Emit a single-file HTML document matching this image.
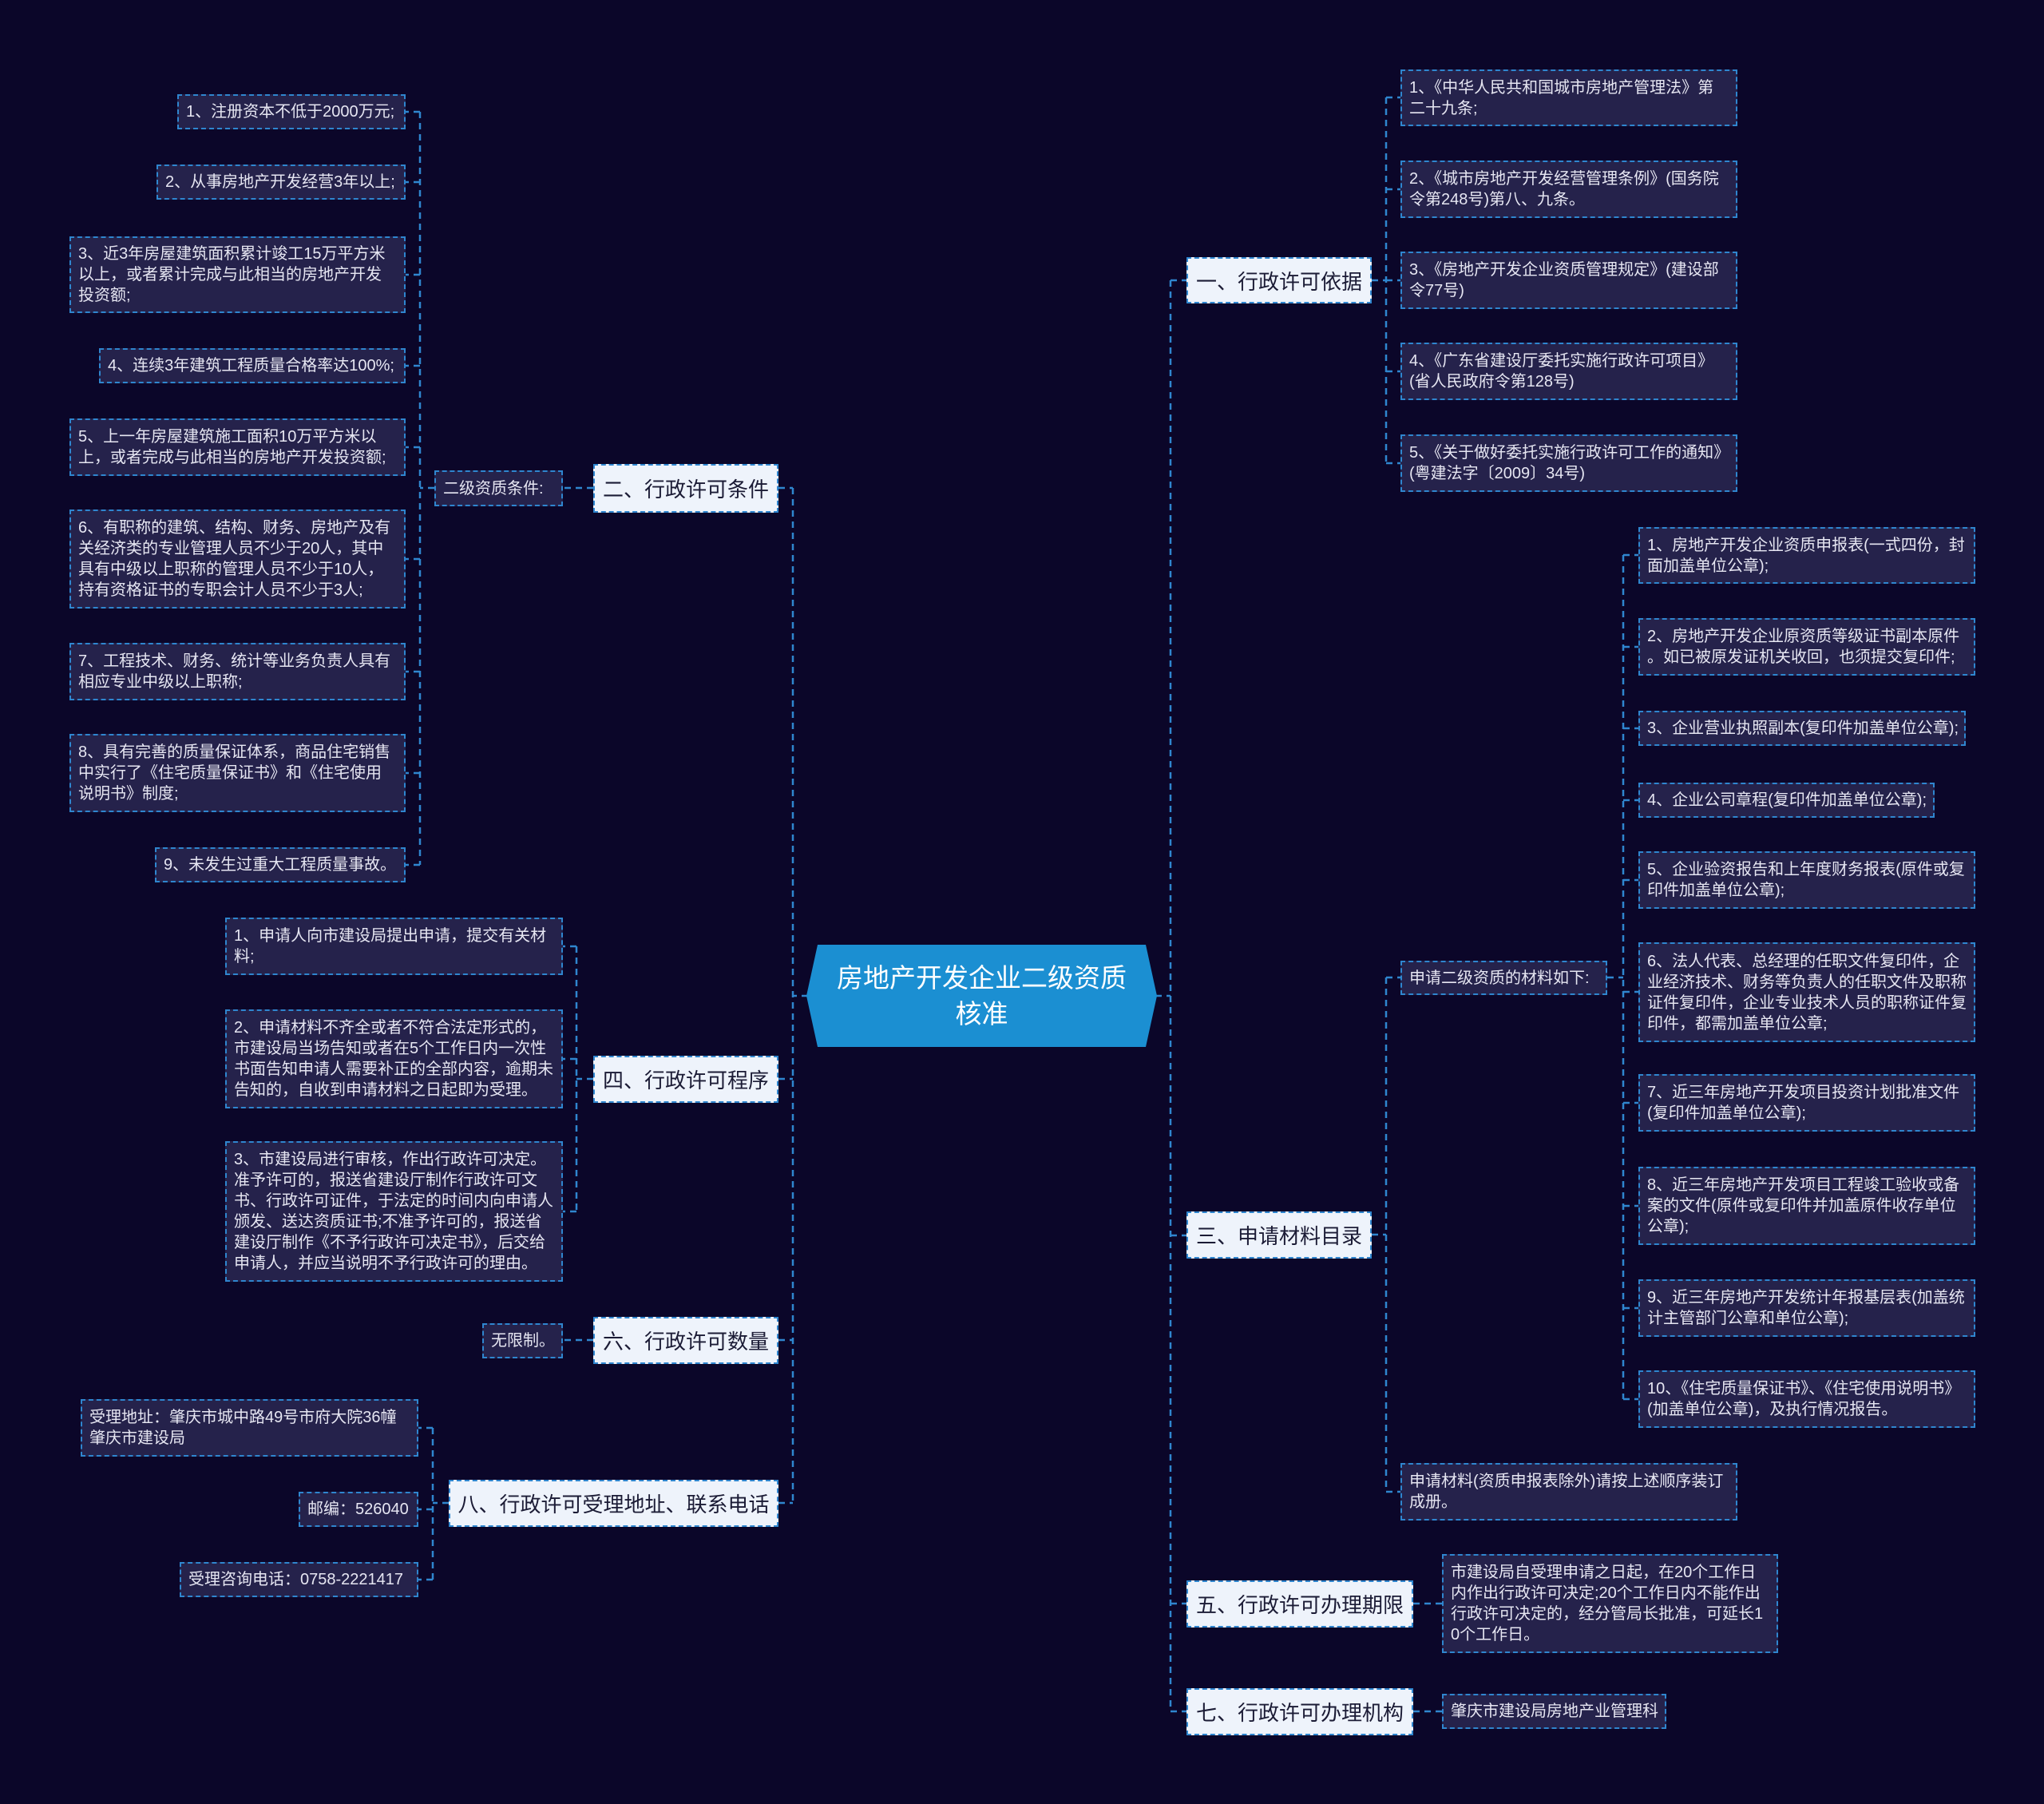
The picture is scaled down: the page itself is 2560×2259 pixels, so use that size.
<!DOCTYPE html>
<html><head><meta charset="utf-8"><style>
html,body{margin:0;padding:0}
body{width:2560px;height:2259px;background:#0b0629;position:relative;overflow:hidden;font-family:"Liberation Sans","Noto Sans CJK SC",sans-serif}
.l{position:absolute;box-sizing:border-box;background:#25224b;border:2px dashed #2f86cf;color:#e6e6f2;font-size:20px;line-height:26px;padding:0 9px;display:flex;align-items:center;word-break:break-all}
.n{white-space:nowrap}
.b{position:absolute;box-sizing:border-box;background:#eef3fb;border:2px dashed #2f86cf;color:#1b1b35;font-size:26px;display:flex;align-items:center;justify-content:center;white-space:nowrap}
svg{position:absolute;left:0;top:0}
</style></head><body>
<svg width="2560" height="2259"><g fill="none" stroke="#2f86cf" stroke-width="2.5" stroke-dasharray="8,6">
<path d="M1466 351V2143M1447 1247H1466M993 611V1882M1012 1247H993"/>
<path d="M1466 351H1486M1466 1547H1486M1466 2008H1486M1466 2143H1486M975 611H993M975 1351H993M975 1678H993M975 1882H993"/>
<path d="M1718 351H1736M1736 122V580M1736 122H1754M1736 237H1754M1736 351H1754M1736 465H1754M1736 580H1754"/>
<path d="M1718 1546H1736M1736 1224V1868M1736 1224H1754M1736 1868H1754"/>
<path d="M2013 1224H2033M2033 695V1752M2033 695H2052M2033 810H2052M2033 912H2052M2033 1002H2052M2033 1102H2052M2033 1242H2052M2033 1381H2052M2033 1510H2052M2033 1638H2052M2033 1752H2052"/>
<path d="M1770 2008H1806M1770 2143H1806"/>
<path d="M743 611H705M544 611H526M526 140V1083M526 140H508M526 228H508M526 344H508M526 458H508M526 560H508M526 700H508M526 841H508M526 968H508M526 1083H508"/>
<path d="M743 1351H722M722 1185V1517M722 1185H705M722 1326H705M722 1517H705M743 1678H705"/>
<path d="M562 1882H542M542 1788V1978M542 1788H524M542 1890H524M542 1978H524"/>
</g>
<polygon points="1024,1183 1435,1183 1449,1247 1435,1311 1024,1311 1010,1247" fill="#1b8fd2"/>
</svg>
<div style="position:absolute;left:1024px;top:1183px;width:411px;height:128px;display:flex;align-items:center;justify-content:center;text-align:center;color:#fff;font-size:33px;line-height:45px">房地产开发企业二级资质<br>核准</div>

<div class="b" style="left:1486px;top:322px;width:232px;height:58px">一、行政许可依据</div>
<div class="b" style="left:1486px;top:1517px;width:232px;height:59px">三、申请材料目录</div>
<div class="b" style="left:1486px;top:1979px;width:284px;height:59px">五、行政许可办理期限</div>
<div class="b" style="left:1486px;top:2114px;width:284px;height:59px">七、行政许可办理机构</div>
<div class="b" style="left:743px;top:581px;width:232px;height:61px">二、行政许可条件</div>
<div class="b" style="left:743px;top:1322px;width:232px;height:59px">四、行政许可程序</div>
<div class="b" style="left:743px;top:1649px;width:232px;height:59px">六、行政许可数量</div>
<div class="b" style="left:562px;top:1853px;width:413px;height:59px">八、行政许可受理地址、联系电话</div>

<div class="l" style="left:1754px;top:87px;width:422px;height:71px">1、《中华人民共和国城市房地产管理法》第二十九条;</div>
<div class="l" style="left:1754px;top:201px;width:422px;height:72px">2、《城市房地产开发经营管理条例》(国务院令第248号)第八、九条。</div>
<div class="l" style="left:1754px;top:315px;width:422px;height:72px">3、《房地产开发企业资质管理规定》(建设部令77号)</div>
<div class="l" style="left:1754px;top:429px;width:422px;height:72px">4、《广东省建设厅委托实施行政许可项目》(省人民政府令第128号)</div>
<div class="l" style="left:1754px;top:544px;width:422px;height:72px">5、《关于做好委托实施行政许可工作的通知》(粤建法字〔2009〕34号)</div>

<div class="l n" style="left:1754px;top:1203px;width:259px;height:43px">申请二级资质的材料如下:</div>
<div class="l" style="left:1754px;top:1832px;width:422px;height:72px">申请材料(资质申报表除外)请按上述顺序装订成册。</div>
<div class="l" style="left:2052px;top:660px;width:422px;height:71px">1、房地产开发企业资质申报表(一式四份，封面加盖单位公章);</div>
<div class="l" style="left:2052px;top:774px;width:422px;height:72px;line-break:anywhere">2、房地产开发企业原资质等级证书副本原件。如已被原发证机关收回，也须提交复印件;</div>
<div class="l n" style="left:2052px;top:890px;width:410px;height:44px">3、企业营业执照副本(复印件加盖单位公章);</div>
<div class="l n" style="left:2052px;top:980px;width:371px;height:44px">4、企业公司章程(复印件加盖单位公章);</div>
<div class="l" style="left:2052px;top:1066px;width:422px;height:72px">5、企业验资报告和上年度财务报表(原件或复印件加盖单位公章);</div>
<div class="l" style="left:2052px;top:1180px;width:422px;height:125px">6、法人代表、总经理的任职文件复印件，企业经济技术、财务等负责人的任职文件及职称证件复印件，企业专业技术人员的职称证件复印件，都需加盖单位公章;</div>
<div class="l" style="left:2052px;top:1345px;width:422px;height:72px">7、近三年房地产开发项目投资计划批准文件(复印件加盖单位公章);</div>
<div class="l" style="left:2052px;top:1461px;width:422px;height:98px">8、近三年房地产开发项目工程竣工验收或备案的文件(原件或复印件并加盖原件收存单位公章);</div>
<div class="l" style="left:2052px;top:1602px;width:422px;height:72px">9、近三年房地产开发统计年报基层表(加盖统计主管部门公章和单位公章);</div>
<div class="l" style="left:2052px;top:1716px;width:422px;height:72px">10、《住宅质量保证书》、《住宅使用说明书》(加盖单位公章)，及执行情况报告。</div>

<div class="l" style="left:1806px;top:1946px;width:421px;height:124px">市建设局自受理申请之日起，在20个工作日内作出行政许可决定;20个工作日内不能作出行政许可决定的，经分管局长批准，可延长10个工作日。</div>
<div class="l n" style="left:1806px;top:2121px;width:281px;height:44px">肇庆市建设局房地产业管理科</div>

<div class="l n" style="left:544px;top:589px;width:161px;height:45px">二级资质条件:</div>
<div class="l n" style="left:222px;top:118px;width:286px;height:44px">1、注册资本不低于2000万元;</div>
<div class="l n" style="left:196px;top:206px;width:312px;height:44px">2、从事房地产开发经营3年以上;</div>
<div class="l" style="left:87px;top:296px;width:421px;height:96px">3、近3年房屋建筑面积累计竣工15万平方米以上，或者累计完成与此相当的房地产开发投资额;</div>
<div class="l n" style="left:124px;top:436px;width:384px;height:44px">4、连续3年建筑工程质量合格率达100%;</div>
<div class="l" style="left:87px;top:524px;width:421px;height:72px">5、上一年房屋建筑施工面积10万平方米以上，或者完成与此相当的房地产开发投资额;</div>
<div class="l" style="left:87px;top:638px;width:421px;height:124px">6、有职称的建筑、结构、财务、房地产及有关经济类的专业管理人员不少于20人，其中具有中级以上职称的管理人员不少于10人，持有资格证书的专职会计人员不少于3人;</div>
<div class="l" style="left:87px;top:805px;width:421px;height:72px">7、工程技术、财务、统计等业务负责人具有相应专业中级以上职称;</div>
<div class="l" style="left:87px;top:919px;width:421px;height:98px">8、具有完善的质量保证体系，商品住宅销售中实行了《住宅质量保证书》和《住宅使用说明书》制度;</div>
<div class="l n" style="left:194px;top:1061px;width:314px;height:44px">9、未发生过重大工程质量事故。</div>

<div class="l" style="left:282px;top:1149px;width:423px;height:72px">1、申请人向市建设局提出申请，提交有关材料;</div>
<div class="l" style="left:282px;top:1264px;width:423px;height:124px">2、申请材料不齐全或者不符合法定形式的，市建设局当场告知或者在5个工作日内一次性书面告知申请人需要补正的全部内容，逾期未告知的，自收到申请材料之日起即为受理。</div>
<div class="l" style="left:282px;top:1429px;width:423px;height:176px">3、市建设局进行审核，作出行政许可决定。准予许可的，报送省建设厅制作行政许可文书、行政许可证件，于法定的时间内向申请人颁发、送达资质证书;不准予许可的，报送省建设厅制作《不予行政许可决定书》，后交给申请人，并应当说明不予行政许可的理由。</div>
<div class="l n" style="left:604px;top:1657px;width:101px;height:44px">无限制。</div>

<div class="l" style="left:101px;top:1752px;width:423px;height:72px">受理地址：肇庆市城中路49号市府大院36幢肇庆市建设局</div>
<div class="l n" style="left:374px;top:1868px;width:150px;height:44px">邮编：526040</div>
<div class="l n" style="left:225px;top:1956px;width:299px;height:44px">受理咨询电话：0758-2221417</div>
</body></html>
